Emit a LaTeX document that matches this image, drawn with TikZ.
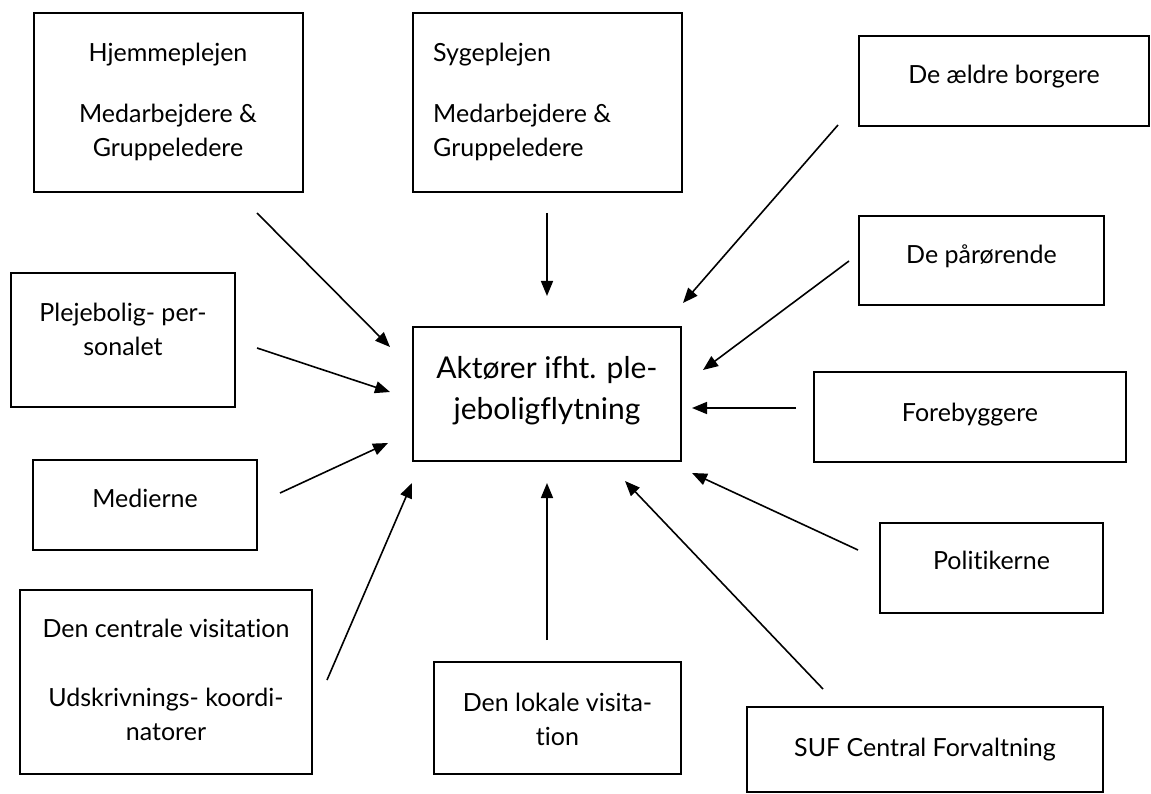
\documentclass[tikz,border=0pt]{standalone}
\usepackage{fontspec}
\setmainfont{Lato}[Ligatures={NoCommon}]
\usetikzlibrary{arrows.meta}
\begin{document}
\begin{tikzpicture}[x=1pt,y=-1pt,
  box/.style={draw=black, line width=1.9pt, inner sep=0pt},
  txt/.style={font=\fontsize{25}{34}\selectfont, inner sep=0pt, align=center, text=black},
  bigtxt/.style={font=\fontsize{30}{41}\selectfont, inner sep=0pt, align=center, text=black},
  arr/.style={line width=1.6pt, draw=black, -{Triangle[length=15pt,width=12pt]}}]
\fill[white] (0,0) rectangle (1151,794);
\useasboundingbox (0,0) rectangle (1151,794);

% boxes
\node[box, minimum width=269pt, minimum height=179pt] (hjem) at (168.5,102.5) {};
\node[box, minimum width=269pt, minimum height=179pt] (syg) at (547.5,102.5) {};
\node[box, minimum width=290pt, minimum height=90pt] (aeldre) at (1004,81) {};
\node[box, minimum width=245pt, minimum height=89pt] (paar) at (981.5,260.5) {};
\node[box, minimum width=224pt, minimum height=134pt] (pleje) at (123,340) {};
\node[box, minimum width=268pt, minimum height=134pt] (akt) at (547,394) {};
\node[box, minimum width=312pt, minimum height=90pt] (fore) at (970,417) {};
\node[box, minimum width=224pt, minimum height=90pt] (medier) at (145,505) {};
\node[box, minimum width=223pt, minimum height=90pt] (polit) at (991.5,568) {};
\node[box, minimum width=292pt, minimum height=184pt] (central) at (166,682) {};
\node[box, minimum width=247pt, minimum height=112pt] (lokale) at (557.5,718) {};
\node[box, minimum width=356pt, minimum height=85pt] (suf) at (925,749.5) {};

% texts
\node[txt, anchor=north] (hjemT) at (168,42.5) {Hjemmeplejen\\[27pt]Medarbejdere \&\\Gruppeledere};
\node[txt, anchor=north west, align=left] (sygT) at (433,42.5) {Sygeplejen\\[27pt]Medarbejdere \&\\Gruppeledere};
\node[txt, anchor=base] (aeldreT) at (1004,84) {De ældre borgere};
\node[txt, anchor=base] (paarT) at (981.5,264) {De pårørende};
\node[txt, anchor=north] (plejeT) at (123,302.5) {Plejebolig- per-\\sonalet};
\node[bigtxt, anchor=north] (aktT) at (547,356) {Aktører ifht. ple-\\jeboligflytning};
\node[txt, anchor=base] (foreT) at (970,421) {Forebyggere};
\node[txt, anchor=base] (medierT) at (145,507) {Medierne};
\node[txt, anchor=base] (politT) at (991.5,569) {Politikerne};
\node[txt, anchor=north] (centralT) at (166,618.5) {Den centrale visitation\\[35pt]Udskrivnings- koordi-\\natorer};
\node[txt, anchor=north] (lokaleT) at (557.5,692.5) {Den lokale visita-\\tion};
\node[txt, anchor=base] (sufT) at (925,756) {SUF Central Forvaltning};

% arrow end points
\coordinate (s1) at (257,213);  \coordinate (e1) at (390,347);
\coordinate (s2) at (547,213);  \coordinate (e2) at (547,296);
\coordinate (s3) at (838,125);  \coordinate (e3) at (683,303);
\coordinate (s4) at (849,261);  \coordinate (e4) at (703,370);
\coordinate (s5) at (257,348);  \coordinate (e5) at (390,392);
\coordinate (s6) at (796,408);  \coordinate (e6) at (692,408);
\coordinate (s7) at (280,493);  \coordinate (e7) at (388,443);
\coordinate (s8) at (858,550);  \coordinate (e8) at (692,473);
\coordinate (s9) at (327,680);  \coordinate (e9) at (412,483);
\coordinate (s10) at (547,640); \coordinate (e10) at (547,483);
\coordinate (s11) at (823,689); \coordinate (e11) at (625,481);

\foreach \i in {1,...,11} { \draw[arr] (s\i) -- (e\i); }
\end{tikzpicture}
\end{document}
